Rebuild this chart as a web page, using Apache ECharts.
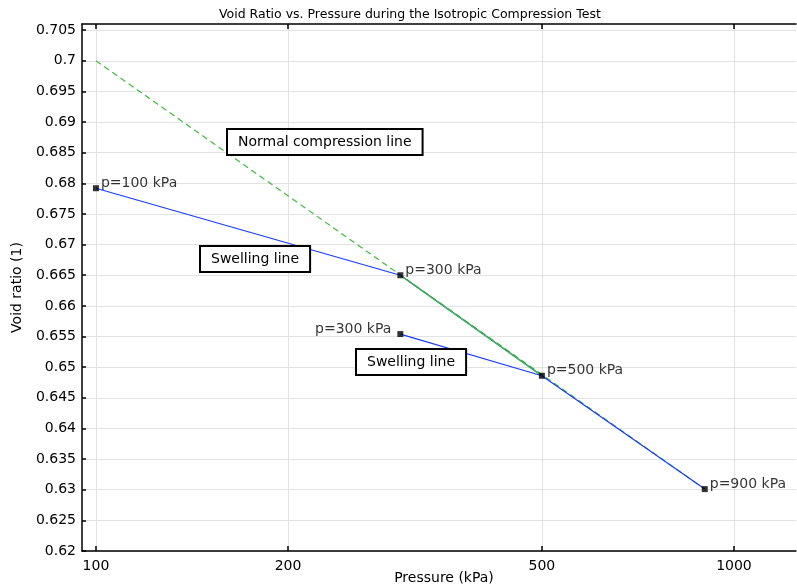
<!DOCTYPE html>
<html>
<head>
    <meta charset="utf-8">
    <title>Void Ratio vs. Pressure</title>
    <script src="https://cdn.jsdelivr.net/npm/echarts@6/dist/echarts.min.js"></script>
    <style>
        html, body { margin: 0; padding: 0; background: #fff; }
        #main { width: 797px; height: 588px; }
    </style>
</head>
<body>
    <div id="main"></div>
    <script type="text/javascript">
        // data (pressure in kPa, void ratio)
        var pathPressure = [100, 300, 500, 300, 500, 900];
        var pathVoid = [0.6792, 0.665, 0.6486, 0.6554, 0.6486, 0.6301];
        var nclPressure = [100, 900];
        var nclVoid = [0.7, 0.6301];
        var loadPressure = [300, 500];
        var loadVoid = [0.665, 0.6486];
        var markPressure = [100, 300, 300, 500, 900];
        var markVoid = [0.6792, 0.665, 0.6554, 0.6486, 0.6301];
        var markLabels = ['p=100 kPa', 'p=300 kPa', 'p=300 kPa', 'p=500 kPa', 'p=900 kPa'];
        var xTickLabels = [100, 200, 500, 1000];
        var yTickLabels = [0.62, 0.625, 0.63, 0.635, 0.64, 0.645, 0.65, 0.655, 0.66, 0.665,
            0.67, 0.675, 0.68, 0.685, 0.69, 0.695, 0.7, 0.705];

        var FONT = 'DejaVu Sans';
        function lg(v) { return Math.log10(v); }
        function pairs(xs, ys) {
            return xs.map(function(x, i) { return [lg(x), ys[i]]; });
        }
        function fmtX(v) { return String(Math.round(Math.pow(10, v))); }

        var chart = echarts.init(document.getElementById('main'));
        var xTicks = xTickLabels.map(lg);

        // boxed annotation text
        function box(txt, x, y) {
            return {
                type: 'text',
                left: x,
                top: y,
                style: {
                    text: txt,
                    font: '14px "DejaVu Sans"',
                    fill: '#000',
                    backgroundColor: '#fff',
                    borderColor: '#000',
                    borderWidth: 2,
                    padding: [5, 10, 5, 10]
                },
                z: 10
            };
        }

        var option = {
            animation: false,
            backgroundColor: '#fff',
            title: {
                text: 'Void Ratio vs. Pressure during the Isotropic Compression Test',
                left: 214,
                top: 3,
                textStyle: { fontFamily: FONT, fontSize: 12.5, fontWeight: 'normal', color: '#000' }
            },
            grid: { left: 82, right: 1, top: 24, bottom: 37, outerBoundsMode: 'none' },
            xAxis: [{
                type: 'value',
                min: lg(95.1),
                max: lg(1251),
                name: 'Pressure (kPa)',
                nameLocation: 'middle',
                nameGap: 20,
                nameMoveOverlap: false,
                nameTextStyle: { fontFamily: FONT, fontSize: 14, color: '#000', padding: [0, 0, 0, 10] },
                axisLine: { lineStyle: { color: '#000', width: 1.5 } },
                axisTick: { inside: true, length: 5, customValues: xTicks, lineStyle: { color: '#000', width: 1.5 } },
                axisLabel: { customValues: xTicks, formatter: fmtX, fontFamily: FONT, fontSize: 14, color: '#000', margin: 8 },
                splitLine: { show: true, lineStyle: { color: '#e3e3e3', width: 1 } }
            }, {
                type: 'value',
                position: 'top',
                min: lg(95.1),
                max: lg(1251),
                axisLine: { show: true, lineStyle: { color: '#000', width: 1.5 } },
                axisTick: { show: true, inside: true, length: 5, customValues: xTicks, lineStyle: { color: '#000', width: 1.5 } },
                axisLabel: { show: false },
                splitLine: { show: false }
            }],
            yAxis: {
                type: 'value',
                min: 0.62,
                max: 0.706,
                name: 'Void ratio (1)',
                nameLocation: 'middle',
                nameGap: 58,
                nameMoveOverlap: false,
                nameTextStyle: { fontFamily: FONT, fontSize: 14, color: '#000' },
                axisLine: { show: true, lineStyle: { color: '#000', width: 1.5 } },
                axisTick: { show: true, inside: true, length: 4, customValues: yTickLabels, lineStyle: { color: '#000', width: 1.5 } },
                axisLabel: { customValues: yTickLabels, fontFamily: FONT, fontSize: 14, color: '#000', margin: 6 },
                splitLine: { show: true, lineStyle: { color: '#e3e3e3', width: 1 } }
            },
            series: [{
                name: 'Normal compression line',
                type: 'line',
                data: pairs(nclPressure, nclVoid),
                symbol: 'none',
                lineStyle: { color: '#3dbb3d', width: 1.2, type: [6, 4] },
                z: 2
            }, {
                name: 'Void ratio',
                type: 'line',
                data: pairs(pathPressure, pathVoid),
                symbol: 'none',
                lineStyle: { color: '#1a3cff', width: 1.2 },
                z: 3
            }, {
                name: 'Loading',
                type: 'line',
                data: pairs(loadPressure, loadVoid),
                symbol: 'none',
                lineStyle: { color: '#3dbb3d', width: 1.5 },
                z: 4
            }, {
                name: 'Points',
                type: 'scatter',
                data: markPressure.map(function(p, i) {
                    var left = i === 2;
                    return {
                        value: [lg(p), markVoid[i]],
                        label: {
                            show: true,
                            formatter: markLabels[i],
                            position: left ? 'left' : 'right',
                            distance: left ? 6 : 2,
                            offset: [0, -5]
                        }
                    };
                }),
                symbol: 'rect',
                symbolSize: 6,
                itemStyle: { color: '#000' },
                label: { fontFamily: FONT, fontSize: 14, color: '#000' },
                z: 5
            }],
            graphic: [
                box('Normal compression line', 226, 128),
                box('Swelling line', 199, 245),
                box('Swelling line', 355, 348)
            ]
        };
        chart.setOption(option);
    </script>
</body>
</html>
